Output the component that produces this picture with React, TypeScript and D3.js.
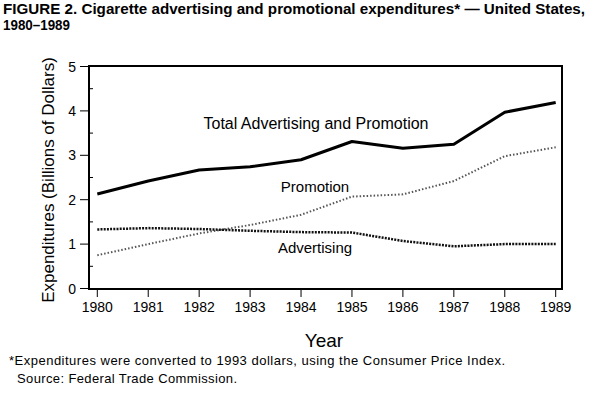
import React, { useRef, useEffect } from 'react';
import * as d3 from 'd3';

const years = [1980, 1981, 1982, 1983, 1984, 1985, 1986, 1987, 1988, 1989];
const totalValues = [2.13, 2.42, 2.67, 2.74, 2.9, 3.31, 3.16, 3.25, 3.97, 4.19];
const promotionValues = [0.75, 1.0, 1.24, 1.43, 1.66, 2.07, 2.12, 2.42, 2.98, 3.18];
const advertisingValues = [1.33, 1.36, 1.34, 1.3, 1.27, 1.26, 1.07, 0.95, 1.0, 1.0];
const yTicks = [0, 1, 2, 3, 4, 5];
const yMinorTicks = [0.5, 1.5, 2.5, 3.5, 4.5];

const FONT = '"Liberation Sans", Arial, Helvetica, sans-serif';

const App: React.FC = () => {
  const svgRef = useRef<SVGSVGElement | null>(null);

  useEffect(() => {
    const svg = d3.select(svgRef.current);
    svg.selectAll('*').remove();

    const box = { left: 89, right: 562, top: 66, bottom: 289 };

    const x = d3.scaleLinear().domain([1980, 1989]).range([97.3, 555.7]);
    const y = d3.scaleLinear().domain([0, 5]).range([288.5, 66.5]);

    // title
    svg
      .append('text')
      .attr('x', 3)
      .attr('y', 14)
      .attr('textLength', 582)
      .attr('lengthAdjust', 'spacingAndGlyphs')
      .style('font-family', FONT)
      .style('font-size', '14px')
      .style('font-weight', 'bold')
      .text('FIGURE 2. Cigarette advertising and promotional expenditures* \u2014 United States,');
    svg
      .append('text')
      .attr('x', 3)
      .attr('y', 30)
      .attr('textLength', 67)
      .attr('lengthAdjust', 'spacingAndGlyphs')
      .style('font-family', FONT)
      .style('font-size', '14px')
      .style('font-weight', 'bold')
      .text('1980\u20131989');

    // frame
    svg
      .append('rect')
      .attr('x', box.left)
      .attr('y', box.top)
      .attr('width', box.right - box.left)
      .attr('height', box.bottom - box.top)
      .attr('fill', 'none')
      .attr('stroke', '#000')
      .attr('stroke-width', 2);

    // y axis ticks
    svg
      .selectAll('.ytick')
      .data(yTicks)
      .enter()
      .append('line')
      .attr('x1', 80)
      .attr('x2', box.left)
      .attr('y1', (d) => y(d))
      .attr('y2', (d) => y(d))
      .attr('stroke', '#000')
      .attr('stroke-width', 1);
    svg
      .selectAll('.yminor')
      .data(yMinorTicks)
      .enter()
      .append('line')
      .attr('x1', box.left)
      .attr('x2', box.left + 4)
      .attr('y1', (d) => y(d))
      .attr('y2', (d) => y(d))
      .attr('stroke', '#000')
      .attr('stroke-width', 1);
    svg
      .selectAll('.ylabel')
      .data(yTicks)
      .enter()
      .append('text')
      .attr('x', 76)
      .attr('y', (d) => y(d) + 5)
      .attr('text-anchor', 'end')
      .style('font-family', FONT)
      .style('font-size', '14px')
      .text((d) => d);

    // x axis ticks
    svg
      .selectAll('.xtick')
      .data(years)
      .enter()
      .append('line')
      .attr('x1', (d) => x(d))
      .attr('x2', (d) => x(d))
      .attr('y1', box.bottom)
      .attr('y2', 297)
      .attr('stroke', '#000')
      .attr('stroke-width', 1);
    svg
      .selectAll('.xlabel')
      .data(years)
      .enter()
      .append('text')
      .attr('x', (d) => x(d))
      .attr('y', 312)
      .attr('text-anchor', 'middle')
      .style('font-family', FONT)
      .style('font-size', '14px')
      .text((d) => d);

    // axis titles
    svg
      .append('text')
      .attr('transform', 'translate(54,180) rotate(-90)')
      .attr('text-anchor', 'middle')
      .style('font-family', FONT)
      .style('font-size', '17px')
      .text('Expenditures (Billions of Dollars)');
    svg
      .append('text')
      .attr('x', 324)
      .attr('y', 347)
      .attr('text-anchor', 'middle')
      .style('font-family', FONT)
      .style('font-size', '19px')
      .text('Year');

    // series
    const line = d3
      .line<number>()
      .curve(d3.curveLinear)
      .x((_, i) => x(years[i]))
      .y((d) => y(d));

    svg
      .append('path')
      .datum(promotionValues)
      .attr('d', line)
      .attr('fill', 'none')
      .attr('stroke', '#555')
      .attr('stroke-width', 2)
      .attr('stroke-dasharray', '1.5 2');

    svg
      .append('path')
      .datum(advertisingValues)
      .attr('d', line)
      .attr('fill', 'none')
      .attr('stroke', '#111')
      .attr('stroke-width', 2.5)
      .attr('stroke-dasharray', '2 1.2');

    svg
      .append('path')
      .datum(totalValues)
      .attr('d', line)
      .attr('fill', 'none')
      .attr('stroke', '#000')
      .attr('stroke-width', 3)
      .attr('stroke-linejoin', 'round');

    // series labels
    const labels = [
      { text: 'Total Advertising and Promotion', x: 316, y: 129, size: 16 },
      { text: 'Promotion', x: 315, y: 192, size: 15 },
      { text: 'Advertising', x: 315, y: 253, size: 15 },
    ];
    svg
      .selectAll('.serieslabel')
      .data(labels)
      .enter()
      .append('text')
      .attr('x', (d) => d.x)
      .attr('y', (d) => d.y)
      .attr('text-anchor', 'middle')
      .style('font-family', FONT)
      .style('font-size', (d) => `${d.size}px`)
      .text((d) => d.text);

    // footnote
    svg
      .append('text')
      .attr('x', 9)
      .attr('y', 365)
      .attr('textLength', 496)
      .attr('lengthAdjust', 'spacing')
      .style('font-family', FONT)
      .style('font-size', '13px')
      .text('*Expenditures were converted to 1993 dollars, using the Consumer Price Index.');
    svg
      .append('text')
      .attr('x', 17)
      .attr('y', 383)
      .attr('textLength', 220)
      .attr('lengthAdjust', 'spacing')
      .style('font-family', FONT)
      .style('font-size', '13px')
      .text('Source: Federal Trade Commission.');
  }, []);

  return (
    <svg
      ref={svgRef}
      width={605}
      height={393}
      style={{ position: 'absolute', left: 0, top: 0, background: '#fff' }}
    ></svg>
  );
};

export default App;
